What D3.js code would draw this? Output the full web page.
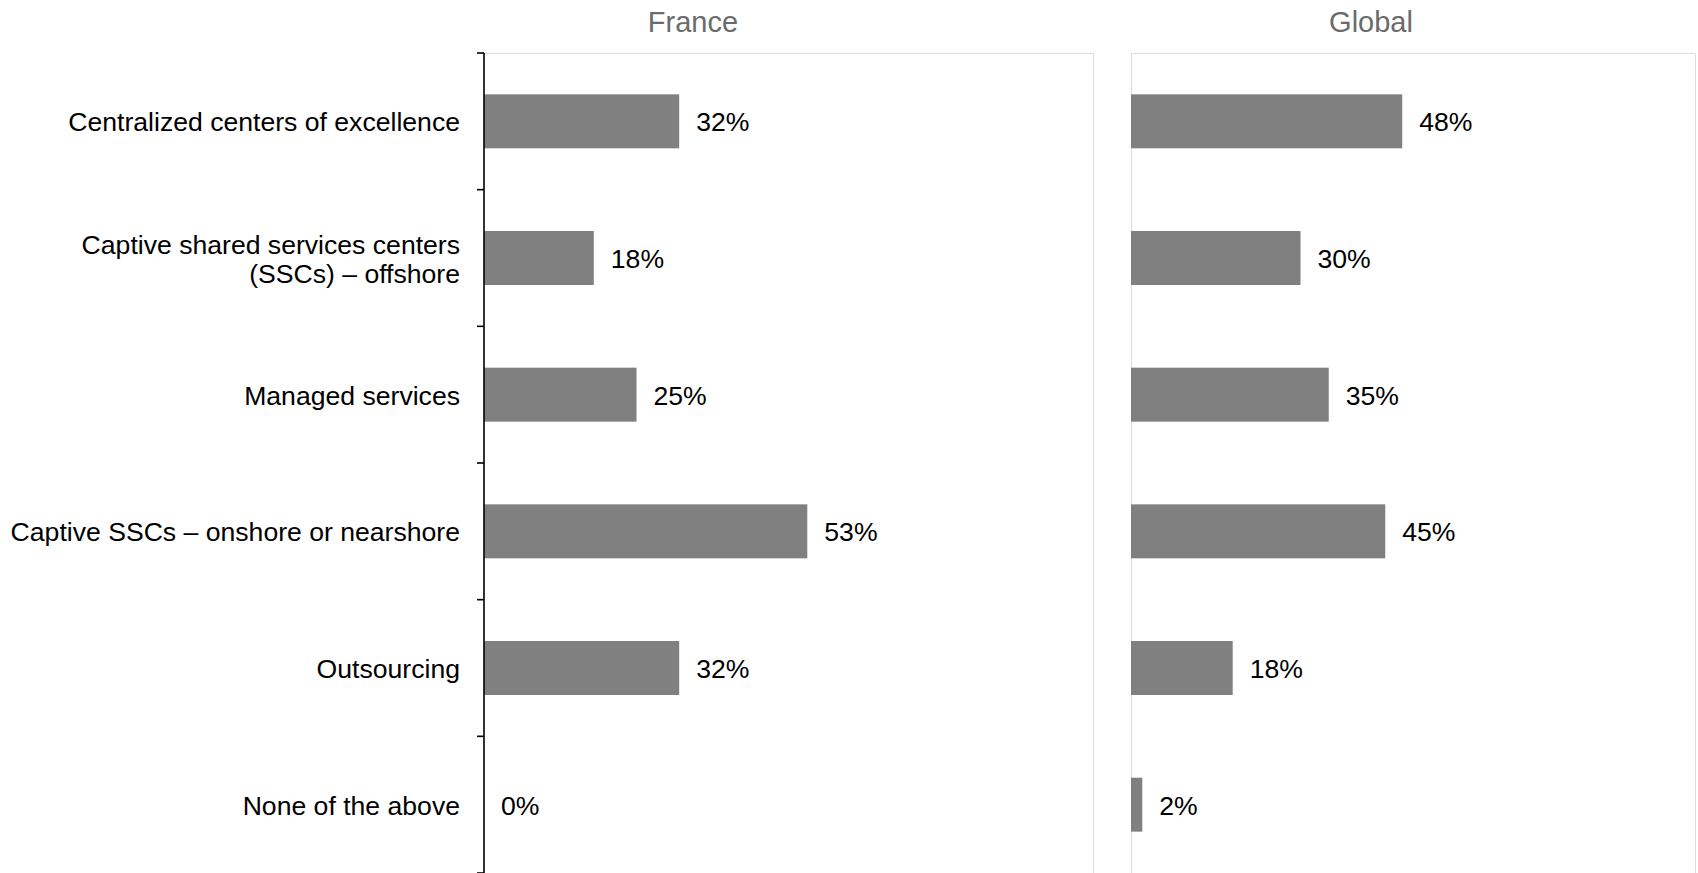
<!DOCTYPE html>
<html>
<head>
<meta charset="utf-8">
<script src="https://cdn.jsdelivr.net/npm/d3@7"></script>
<style>
  html, body { margin: 0; padding: 0; background: #fff; }
  svg { display: block; font-family: "Liberation Sans", Arial, sans-serif; }
</style>
</head>
<body>
<svg id="chart" width="1698" height="873"></svg>
<script>
// Delivery models, one row per category
const categories = [
  "Centralized centers of excellence",
  "Captive shared services centers\n(SSCs) – offshore",
  "Managed services",
  "Captive SSCs – onshore or nearshore",
  "Outsourcing",
  "None of the above"
];
const panelTitles = ["France", "Global"];
const franceValues = [0.32, 0.18, 0.25, 0.53, 0.32, 0.00];
const globalValues = [0.48, 0.30, 0.35, 0.45, 0.18, 0.02];

const svg = d3.select("#chart");
const fmt = d3.format(".0%");

const plotTop = 53, plotBottom = 873;
const y = d3.scaleBand()
  .domain(categories)
  .range([plotTop, plotBottom])
  .paddingInner(0.605)
  .paddingOuter(0.3025);

const panels = [
  { title: panelTitles[0], values: franceValues, titleX: 693, x: d3.scaleLinear().domain([0, 1]).range([484, 1094]), axis: true },
  { title: panelTitles[1], values: globalValues, titleX: 1371, x: d3.scaleLinear().domain([0, 1]).range([1131, 1696]), axis: false }
];

const labelSize = 26.6;

panels.forEach(p => {
  const [x0, x1] = p.x.range();
  const g = svg.append("g");

  // panel frame
  g.append("line").attr("x1", x0).attr("x2", x1).attr("y1", plotTop + 0.5).attr("y2", plotTop + 0.5)
    .attr("stroke", "#dcdcdc").attr("stroke-width", 1);
  g.append("line").attr("x1", x1 - 0.5).attr("x2", x1 - 0.5).attr("y1", plotTop).attr("y2", plotBottom + 20)
    .attr("stroke", "#dcdcdc").attr("stroke-width", 1);
  if (!p.axis) {
    g.append("line").attr("x1", x0 + 0.5).attr("x2", x0 + 0.5).attr("y1", plotTop).attr("y2", plotBottom + 20)
      .attr("stroke", "#dcdcdc").attr("stroke-width", 1);
  }

  // panel title
  g.append("text")
    .attr("x", p.titleX).attr("y", 32)
    .attr("text-anchor", "middle")
    .attr("font-size", 29).attr("fill", "#6b6b6b")
    .text(p.title);

  // bars
  g.selectAll("rect.bar").data(categories).join("rect")
    .attr("class", "bar")
    .attr("x", x0)
    .attr("y", d => y(d))
    .attr("width", (d, i) => p.x(p.values[i]) - x0)
    .attr("height", y.bandwidth())
    .attr("fill", "#808080");

  // value labels
  g.selectAll("text.val").data(categories).join("text")
    .attr("class", "val")
    .attr("x", (d, i) => p.x(p.values[i]) + 17)
    .attr("y", d => y(d) + y.bandwidth() / 2)
    .attr("dy", "0.38em")
    .attr("font-size", labelSize).attr("fill", "#000")
    .text((d, i) => fmt(p.values[i]));

  if (p.axis) {
    // category axis with tick marks between categories
    const step = y.step();
    const ticks = d3.range(categories.length + 1).map(i => plotTop + i * step);
    g.append("line").attr("x1", x0).attr("x2", x0).attr("y1", plotTop).attr("y2", plotBottom + 20)
      .attr("stroke", "#000").attr("stroke-width", 1.6);
    g.selectAll("line.tick").data(ticks).join("line")
      .attr("class", "tick")
      .attr("x1", x0 - 7).attr("x2", x0)
      .attr("y1", d => d).attr("y2", d => d)
      .attr("stroke", "#000").attr("stroke-width", 1.6);

    // category labels
    g.selectAll("text.cat").data(categories).join("text")
      .attr("class", "cat")
      .attr("text-anchor", "end")
      .attr("font-size", labelSize).attr("fill", "#000")
      .each(function (d) {
        const lines = d.split("\n");
        const cy = y(d) + y.bandwidth() / 2;
        const lh = 29;
        const t = d3.select(this);
        lines.forEach((ln, k) => {
          t.append("tspan")
            .attr("x", x0 - 24)
            .attr("y", cy + (k - (lines.length - 1) / 2) * lh)
            .attr("dy", "0.38em")
            .text(ln);
        });
      });
  }
});
</script>
</body>
</html>
